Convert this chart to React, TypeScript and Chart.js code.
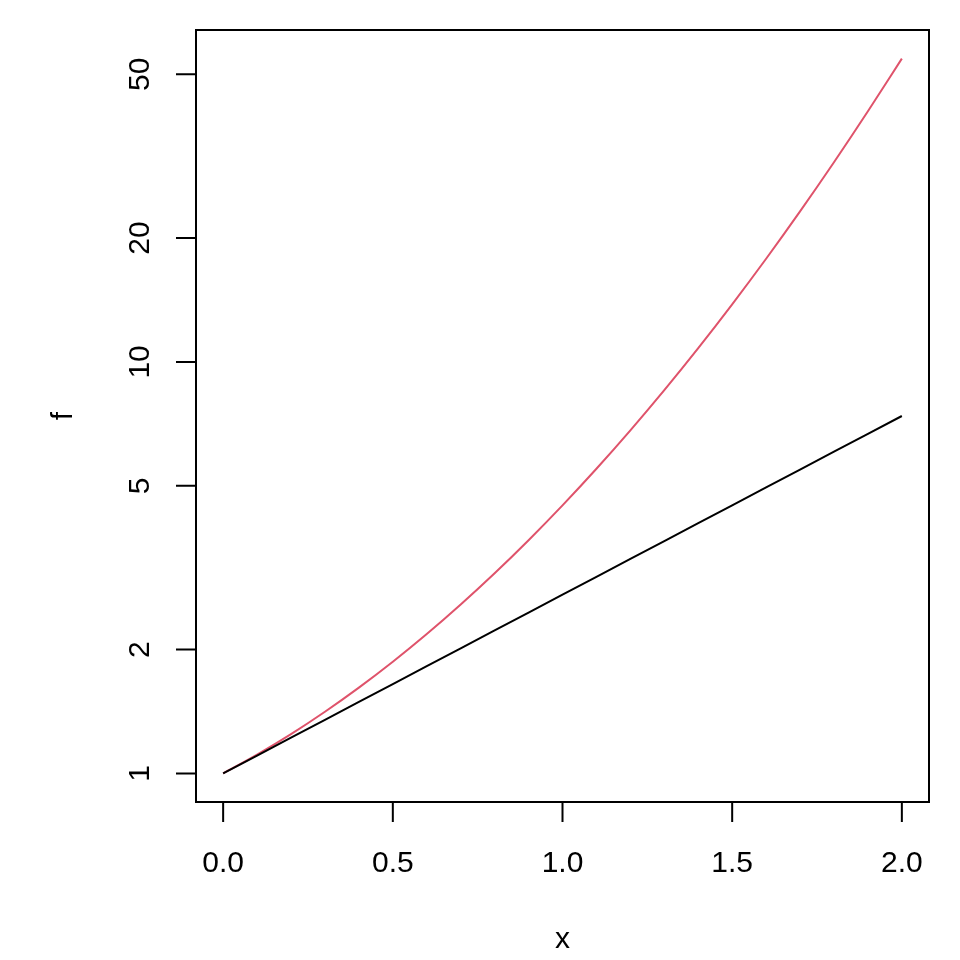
import React, { useEffect, useRef } from "react";
import { Chart, registerables } from "chart.js";
Chart.register(...registerables);

const xValues = [0, 0.1, 0.2, 0.3, 0.4, 0.5, 0.6, 0.7, 0.8, 0.9, 1.0, 1.1, 1.2, 1.3, 1.4, 1.5, 1.6, 1.7, 1.8, 1.9, 2.0];
const blackValues = [1, 1.105, 1.221, 1.35, 1.492, 1.649, 1.822, 2.014, 2.226, 2.46, 2.718, 3.004, 3.32, 3.669, 4.055, 4.482, 4.953, 5.474, 6.05, 6.686, 7.389];
const redValues = [1, 1.111, 1.246, 1.412, 1.616, 1.868, 2.181, 2.573, 3.065, 3.688, 4.482, 5.501, 6.821, 8.542, 10.805, 13.804, 17.814, 23.22, 30.57, 40.65, 54.6];
const xTicks = [0, 0.5, 1, 1.5, 2];
const xTickLabels = ["0.0", "0.5", "1.0", "1.5", "2.0"];
const yTicks = [1, 2, 5, 10, 20, 50];
const yTickLabels = ["1", "2", "5", "10", "20", "50"];

const FONT = '30px "Liberation Sans", Arial, sans-serif';

const axesPlugin = {
  id: "rAxes",
  afterDraw(chart: any) {
    const ctx = chart.ctx;
    const { left, right, top, bottom } = chart.chartArea;
    const xs = chart.scales.x;
    const ys = chart.scales.y;
    ctx.save();
    ctx.strokeStyle = "#000";
    ctx.lineWidth = 2;
    ctx.strokeRect(left, top, right - left, bottom - top);
    ctx.fillStyle = "#000";
    ctx.font = FONT;
    // x axis
    ctx.beginPath();
    ctx.moveTo(xs.getPixelForValue(xTicks[0]), bottom);
    ctx.lineTo(xs.getPixelForValue(xTicks[xTicks.length - 1]), bottom);
    xTicks.forEach((t) => {
      const px = xs.getPixelForValue(t);
      ctx.moveTo(px, bottom);
      ctx.lineTo(px, bottom + 20);
    });
    ctx.stroke();
    ctx.textAlign = "center";
    ctx.textBaseline = "alphabetic";
    xTicks.forEach((t, i) => {
      ctx.fillText(xTickLabels[i], xs.getPixelForValue(t), 872);
    });
    ctx.fillText("x", (left + right) / 2, 948);
    // y axis
    ctx.beginPath();
    ctx.moveTo(left, ys.getPixelForValue(yTicks[0]));
    ctx.lineTo(left, ys.getPixelForValue(yTicks[yTicks.length - 1]));
    yTicks.forEach((t) => {
      const py = ys.getPixelForValue(t);
      ctx.moveTo(left, py);
      ctx.lineTo(left - 20, py);
    });
    ctx.stroke();
    yTicks.forEach((t, i) => {
      const py = ys.getPixelForValue(t);
      ctx.save();
      ctx.translate(149, py);
      ctx.rotate(-Math.PI / 2);
      ctx.fillText(yTickLabels[i], 0, 0);
      ctx.restore();
    });
    ctx.save();
    ctx.translate(72, (top + bottom) / 2);
    ctx.rotate(-Math.PI / 2);
    ctx.fillText("f", 0, 0);
    ctx.restore();
    ctx.restore();
  },
};

export default function App() {
  const ref = useRef<HTMLCanvasElement>(null);
  useEffect(() => {
    if (!ref.current) return;
    const logMin = Math.log10(1);
    const logMax = Math.log10(54.6);
    const pad = (logMax - logMin) * 0.04;
    const chart = new Chart(ref.current, {
      type: "line",
      data: {
        datasets: [
          {
            data: xValues.map((x, i) => ({ x, y: blackValues[i] })),
            borderColor: "#000000",
            borderWidth: 2,
            pointRadius: 0,
            tension: 0,
          },
          {
            data: xValues.map((x, i) => ({ x, y: redValues[i] })),
            borderColor: "#DF536B",
            borderWidth: 2,
            pointRadius: 0,
            cubicInterpolationMode: "monotone",
          },
        ],
      },
      options: {
        animation: false,
        responsive: false,
        events: [],
        layout: { padding: { left: 196, right: 31, top: 30, bottom: 158 } },
        plugins: { legend: { display: false }, tooltip: { enabled: false } },
        scales: {
          x: { type: "linear", display: false, min: -0.08, max: 2.08 },
          y: {
            type: "logarithmic",
            display: false,
            min: Math.pow(10, logMin - pad),
            max: Math.pow(10, logMax + pad),
          },
        },
      },
      plugins: [axesPlugin],
    });
    return () => chart.destroy();
  }, []);
  return (
    <div style={{ position: "fixed", left: 0, top: 0, width: 960, height: 960, background: "#fff" }}>
      <canvas ref={ref} width={960} height={960} style={{ display: "block" }} />
    </div>
  );
}
